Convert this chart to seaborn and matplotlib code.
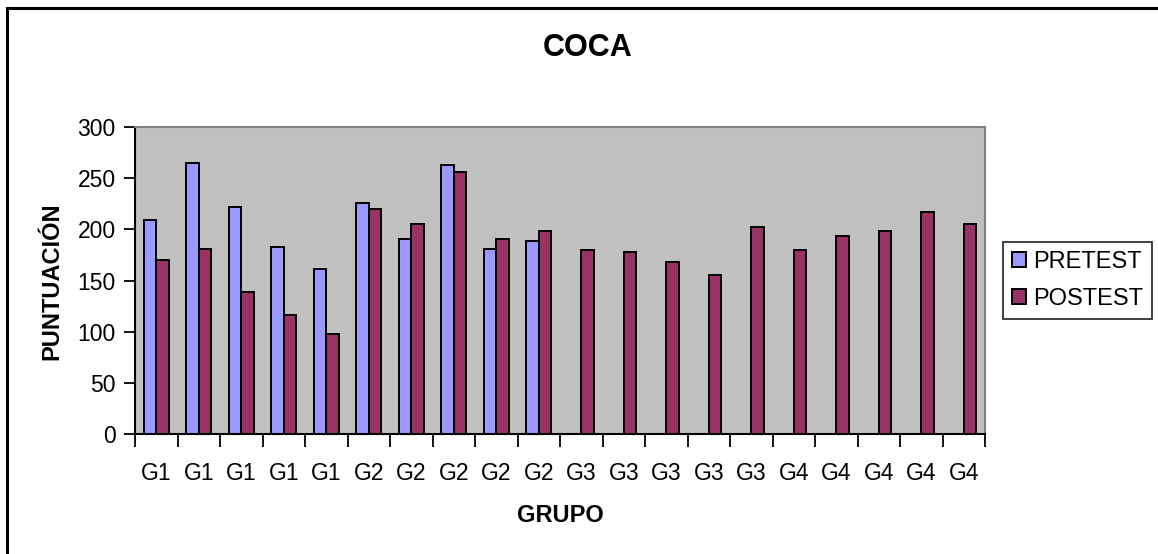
import numpy as np
import pandas as pd
import matplotlib
matplotlib.use("Agg")
import matplotlib.pyplot as plt
from matplotlib.patches import Rectangle
import seaborn as sns

# Data
grupos = ["G1", "G1", "G1", "G1", "G1",
          "G2", "G2", "G2", "G2", "G2",
          "G3", "G3", "G3", "G3", "G3",
          "G4", "G4", "G4", "G4", "G4"]
pretest = [209, 265, 222, 183, 161,
           226, 191, 263, 181, 189,
           np.nan, np.nan, np.nan, np.nan, np.nan,
           np.nan, np.nan, np.nan, np.nan, np.nan]
postest = [170, 181, 139, 116, 98,
           220, 205, 256, 191, 198,
           180, 178, 168, 155, 202,
           180, 193, 198, 217, 205]
series = ["PRETEST", "POSTEST"]
colors = ["#9999FF", "#993366"]

sns.set_theme(style="white")
plt.rcParams["font.family"] = ["Liberation Sans", "DejaVu Sans"]
plt.rcParams.update({"text.color": "black", "axes.labelcolor": "black",
                     "xtick.color": "black", "ytick.color": "black"})

n = len(grupos)
ids = [str(i) for i in range(n)]
df = pd.DataFrame({
    "id": ids * 2,
    "serie": [series[0]] * n + [series[1]] * n,
    "valor": list(pretest) + list(postest),
})

W, H = 1158, 554
fig = plt.figure(figsize=(W / 100, H / 100), dpi=100)
fig.patch.set_facecolor("white")

ax = fig.add_axes([135 / W, 1 - 434 / H, (985 - 135) / W, (434 - 127) / H])
ax.set_facecolor("#C0C0C0")

sns.barplot(data=df, x="id", y="valor", hue="serie", order=ids,
            hue_order=series, palette=colors, width=0.59,
            edgecolor="black", linewidth=1.4, saturation=1,
            errorbar=None, ax=ax)

ax.set_xlim(-0.5, n - 0.5)
ax.set_ylim(0, 300)
ax.set_yticks(np.arange(0, 301, 50))
ax.tick_params(axis="y", labelsize=16.5, length=8, width=1.3,
               color="black", labelcolor="black", direction="out",
               pad=6, left=True)

# category boundaries carry the tick marks; labels sit at category centres
ax.set_xticks(np.arange(-0.5, n, 1.0))
ax.set_xticklabels([])
ax.set_xticks(np.arange(n), minor=True)
ax.set_xticklabels(grupos, minor=True)
ax.tick_params(axis="x", which="major", length=9, width=1.3,
               color="black", direction="out", bottom=True)
ax.tick_params(axis="x", which="minor", length=0, labelsize=16.5,
               labelcolor="black", pad=20)

for side in ["left", "bottom"]:
    ax.spines[side].set_color("black")
    ax.spines[side].set_linewidth(1.5)
for side in ["top", "right"]:
    ax.spines[side].set_color("#808080")
    ax.spines[side].set_linewidth(1.5)

ax.set_xlabel("")
ax.set_ylabel("")

fig.text(588 / W, 1 - 48 / H, "COCA", ha="center", va="center",
         fontsize=22, fontweight="bold", color="black")
fig.text(560 / W, 1 - 516 / H, "GRUPO", ha="center", va="center",
         fontsize=17, fontweight="bold", color="black")
fig.text(52 / W, 1 - 281 / H, "PUNTUACIÓN", ha="center", va="center",
         rotation=90, fontsize=17, fontweight="bold", color="black")

handles, labels = ax.get_legend_handles_labels()
ax.legend_.remove()
leg = fig.legend(handles, labels, loc="upper left",
                 bbox_to_anchor=(1003 / W, 1 - 242 / H),
                 frameon=True, fancybox=False, fontsize=17,
                 handlelength=0.6, handleheight=0.6, handletextpad=0.3,
                 borderpad=0.38, labelspacing=0.62, borderaxespad=0)
leg.get_frame().set_edgecolor("black")
leg.get_frame().set_linewidth(1.3)
for t in leg.get_texts():
    t.set_color("black")

# chart area frame
fig.patches.append(Rectangle((7 / W, -0.05), 1.2, 1 - 8 / H + 0.05,
                             transform=fig.transFigure, fill=False,
                             edgecolor="black", linewidth=2.2, zorder=10))

fig.savefig("out.png", dpi=100)
